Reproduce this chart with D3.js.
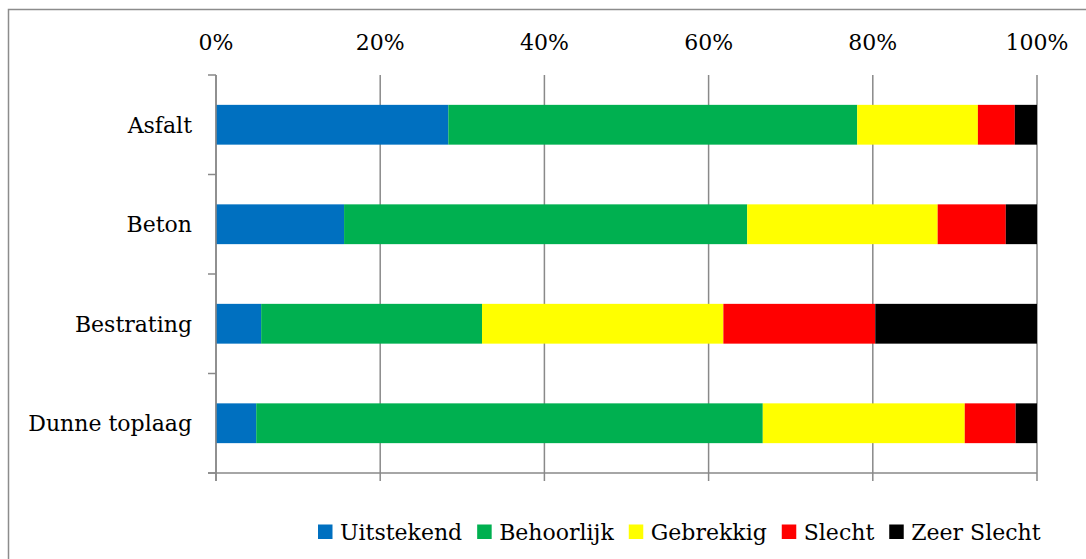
<!DOCTYPE html>
<html>
<head>
<meta charset="utf-8">
<script src="https://cdn.jsdelivr.net/npm/d3@7"></script>
<style>
  body { margin: 0; background: #fff; }
  svg { display: block; font-family: "DejaVu Serif", serif; }
</style>
</head>
<body>
<svg id="chart" width="1086" height="559"></svg>
<script>
// Road surface categories and condition shares (percent of each row)
const categories = ["Asfalt", "Beton", "Bestrating", "Dunne toplaag"]
const seriesNames = ["Uitstekend", "Behoorlijk", "Gebrekkig", "Slecht", "Zeer Slecht"]
const seriesColors = ["#0070C0", "#00B050", "#FFFF00", "#FF0000", "#000000"]
const uitstekend = [28.3, 15.6, 5.5, 4.9]
const behoorlijk = [49.8, 49.1, 26.9, 61.7]
const gebrekkig = [14.7, 23.2, 29.4, 24.6]
const slecht = [4.5, 8.3, 18.5, 6.2]
const zeerSlecht = [2.7, 3.8, 19.7, 2.6]
const tickValues = [0, 20, 40, 60, 80, 100]

const svg = d3.select("#chart")
const fontSize = 22
const gridColor = "#898989"

// outer chart border (runs off the right and bottom edge like the original)
svg.append("rect")
  .attr("x", 8.5).attr("y", 9.5)
  .attr("width", 1100).attr("height", 600)
  .attr("fill", "none").attr("stroke", "#8c8c8c").attr("stroke-width", 1.5)

// plot area bounds
const plotLeft = 216, plotRight = 1037, plotTop = 75, plotBottom = 473

const x = d3.scaleLinear().domain([0, 100]).range([plotLeft, plotRight])
const y = d3.scaleBand().domain(categories).range([plotTop, plotBottom])
  .paddingInner(0.6).paddingOuter(0.3)

// build the stacked rows from the named series arrays
const allSeries = [uitstekend, behoorlijk, gebrekkig, slecht, zeerSlecht]
const rows = categories.map((c, i) => {
  let row = { cat: c }
  seriesNames.forEach((s, j) => row[s] = allSeries[j][i])
  return row
})
const stacked = d3.stack().keys(seriesNames)(rows)

// vertical gridlines (extend a little below the bottom axis as ticks)
svg.append("g").selectAll("line")
  .data(tickValues).enter().append("line")
  .attr("x1", d => x(d)).attr("x2", d => x(d))
  .attr("y1", plotTop).attr("y2", plotBottom + 8)
  .attr("stroke", gridColor).attr("stroke-width", 1.5)

// top percentage labels
svg.append("g").selectAll("text")
  .data(tickValues).enter().append("text")
  .attr("x", d => x(d)).attr("y", 50)
  .attr("text-anchor", "middle")
  .attr("font-size", fontSize)
  .attr("fill", "#000")
  .text(d => d + "%")

// bars
svg.append("g").selectAll("g")
  .data(stacked).enter().append("g")
  .attr("fill", (d, i) => seriesColors[i])
  .selectAll("rect")
  .data(d => d).enter().append("rect")
  .attr("x", d => x(d[0]))
  .attr("width", d => x(d[1]) - x(d[0]))
  .attr("y", d => y(d.data.cat))
  .attr("height", y.bandwidth())

// left category axis: line plus ticks on the band boundaries
const boundaries = categories.map(c => y(c) - y.step() * y.paddingInner() / 2)
boundaries.push(plotBottom)
boundaries[0] = plotTop
svg.append("line")
  .attr("x1", plotLeft).attr("x2", plotLeft)
  .attr("y1", plotTop).attr("y2", plotBottom + 8)
  .attr("stroke", gridColor).attr("stroke-width", 1.5)
svg.append("g").selectAll("line")
  .data(boundaries).enter().append("line")
  .attr("x1", plotLeft - 8).attr("x2", plotLeft)
  .attr("y1", d => d).attr("y2", d => d)
  .attr("stroke", gridColor).attr("stroke-width", 1.5)

// bottom axis line
svg.append("line")
  .attr("x1", plotLeft - 8).attr("x2", plotRight)
  .attr("y1", plotBottom).attr("y2", plotBottom)
  .attr("stroke", gridColor).attr("stroke-width", 1.5)

// category labels
svg.append("g").selectAll("text")
  .data(categories).enter().append("text")
  .attr("x", plotLeft - 24)
  .attr("y", d => y(d) + y.bandwidth() / 2)
  .attr("dy", "0.36em")
  .attr("text-anchor", "end")
  .attr("font-size", fontSize)
  .attr("fill", "#000")
  .text(d => d)

// legend, laid out left to right
const legend = svg.append("g")
let lx = 318
seriesNames.forEach((s, i) => {
  legend.append("rect")
    .attr("x", lx).attr("y", 524.5)
    .attr("width", 14.5).attr("height", 14.5)
    .attr("fill", seriesColors[i])
  const t = legend.append("text")
    .attr("x", lx + 22).attr("y", 539.5)
    .attr("font-size", fontSize)
    .attr("fill", "#000")
    .text(s)
  lx += 22 + t.node().getComputedTextLength() + 15
})
</script>
</body>
</html>
